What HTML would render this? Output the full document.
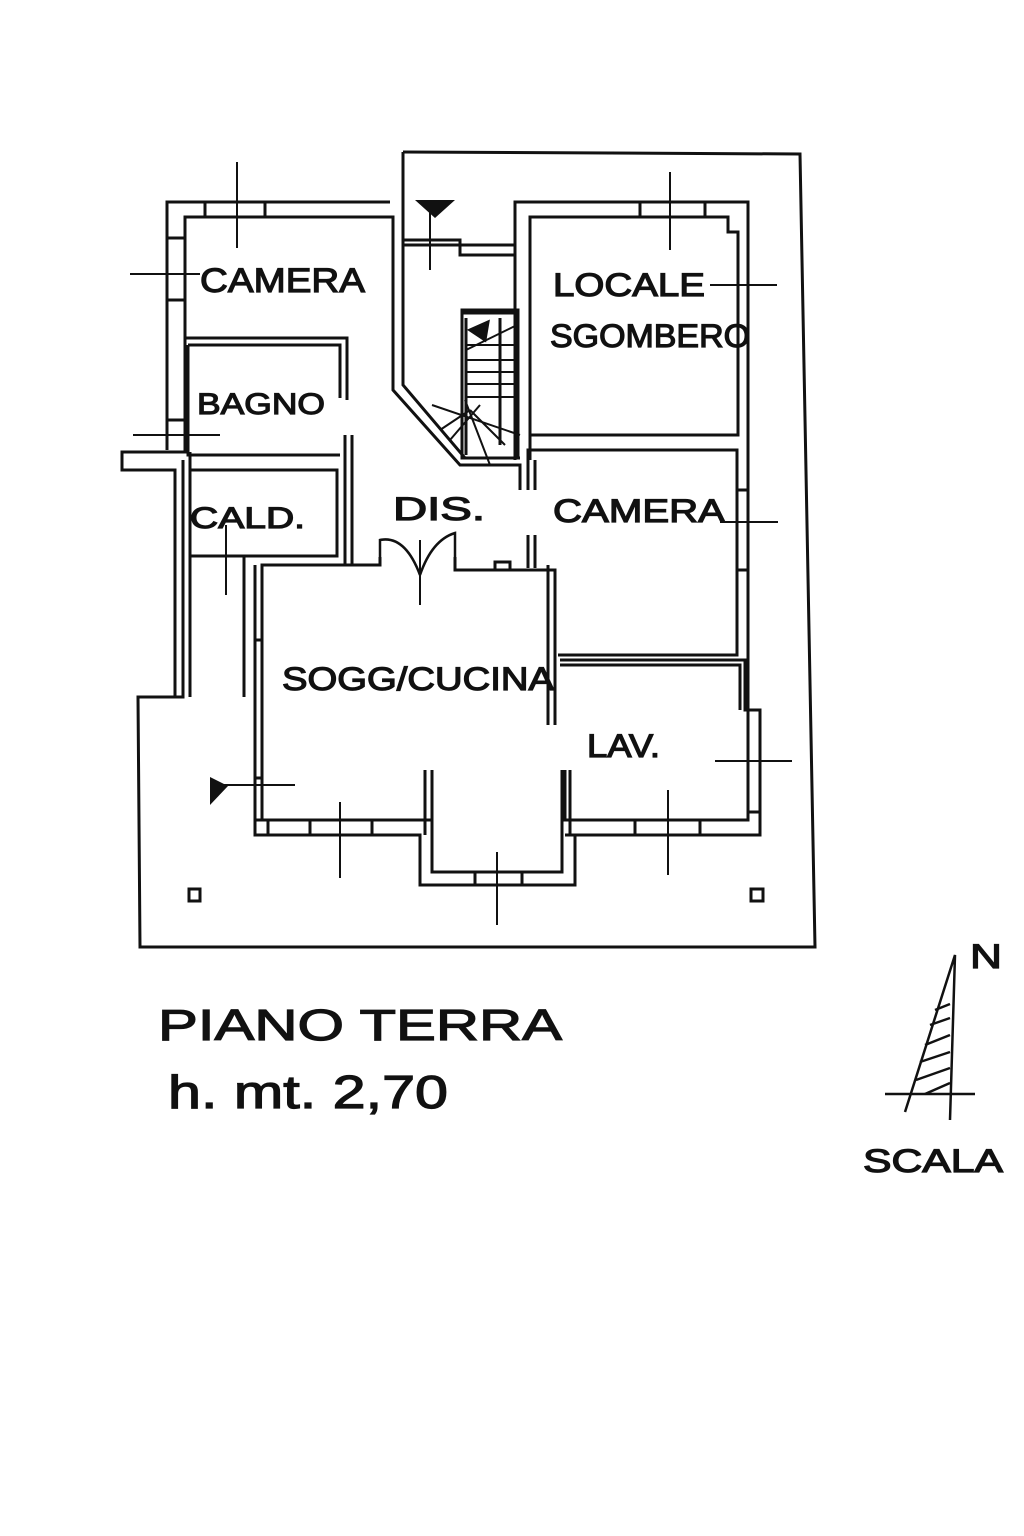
<!DOCTYPE html>
<html><head><meta charset="utf-8"><style>
html,body{margin:0;padding:0;background:#fff;}
svg{display:block;}
text{font-family:"Liberation Sans",sans-serif;fill:#111;stroke:#111;stroke-width:1.2;}
</style></head><body>
<svg width="1024" height="1536" viewBox="0 0 1024 1536" xmlns="http://www.w3.org/2000/svg">
<g fill="none" stroke="#111" stroke-width="3" stroke-linejoin="miter">
<!-- outer site boundary -->
<polyline points="403,152 800,154 815,947 140,947 138,697 183,697 183,460"/>
<line x1="403" y1="152" x2="403" y2="240"/>
<!-- top-left block -->
<polyline points="390,202 167,202 167,450"/>
<polyline points="393,240 393,217 185,217 185,450"/>
<line x1="205" y1="202" x2="205" y2="217"/><line x1="265" y1="202" x2="265" y2="217"/>
<line x1="167" y1="238" x2="185" y2="238"/><line x1="167" y1="300" x2="185" y2="300"/>
<line x1="167" y1="420" x2="185" y2="420"/>
<!-- camera/bagno partition -->
<polyline points="185,338 347,338 347,400"/>
<polyline points="188,345 340,345 340,398"/>
<polyline points="188,345 188,455 340,455"/>
<polyline points="185,440 185,452 122,452 122,470 175,470 175,697"/>
<line x1="190" y1="452" x2="190" y2="697"/>
<!-- bagno right / corridor left -->
<polyline points="345,435 345,565 375,565"/>
<polyline points="352,435 352,565"/>
<!-- cald box -->
<rect x="190" y="470" width="147" height="86"/>
<line x1="244" y1="556" x2="244" y2="697"/>
<!-- vestibule / corridor -->
<polyline points="393,217 393,390 460,465 520,465 520,490"/>
<polyline points="403,240 403,385 465,458 520,458"/>
<polyline points="403,240 460,240 460,255 515,255"/>
<line x1="403" y1="245" x2="515" y2="245"/>
<!-- stair -->
<rect x="462" y="310" width="56" height="148"/>
<line x1="466" y1="318" x2="466" y2="455"/>
<line x1="462" y1="313" x2="518" y2="313"/>
<line x1="500" y1="318" x2="500" y2="445"/>
<g stroke-width="2">
<line x1="466" y1="345" x2="518" y2="345"/><line x1="466" y1="360" x2="518" y2="360"/>
<line x1="466" y1="372" x2="518" y2="372"/><line x1="466" y1="384" x2="518" y2="384"/>
<line x1="466" y1="397" x2="518" y2="397"/><line x1="466" y1="350" x2="515" y2="326"/>
<line x1="432" y1="405" x2="520" y2="435"/><line x1="450" y1="440" x2="480" y2="405"/>
<line x1="440" y1="430" x2="470" y2="410"/><line x1="465" y1="400" x2="490" y2="465"/>
<line x1="470" y1="410" x2="505" y2="445"/>
</g>
<polygon points="470,330 488,322 485,340" fill="#111"/>
<!-- locale sgombero block -->
<polyline points="515,460 515,202 748,202 748,710"/>
<polyline points="530,460 530,217 728,217 728,232 738,232 738,435 530,435"/>
<line x1="640" y1="202" x2="640" y2="217"/><line x1="705" y1="202" x2="705" y2="217"/>
<!-- camera right -->
<polyline points="528,490 528,450 737,450 737,655 558,655"/>
<polyline points="535,490 535,460"/>
<line x1="737" y1="490" x2="748" y2="490"/><line x1="737" y1="570" x2="748" y2="570"/>
<!-- lav -->
<polyline points="560,660 745,660 745,710 760,710 760,835 565,835"/>
<polyline points="560,665 740,665 740,710"/><line x1="748" y1="710" x2="748" y2="820"/>
<polyline points="565,770 565,820 748,820 748,812 760,812"/>
<line x1="635" y1="820" x2="635" y2="835"/><line x1="700" y1="820" x2="700" y2="835"/>
<!-- soggiorno -->
<polyline points="380,557 380,565 262,565 262,820 432,820"/>
<polyline points="455,557 455,570 555,570 555,725"/>
<line x1="548" y1="565" x2="548" y2="725"/>
<line x1="528" y1="535" x2="528" y2="568"/><line x1="535" y1="535" x2="535" y2="568"/>
<polyline points="495,570 495,562 510,562 510,570"/>
<polyline points="255,565 255,835 420,835 420,885 575,885 575,835"/>
<polyline points="255,778 262,778"/><line x1="255" y1="640" x2="262" y2="640"/>
<line x1="255" y1="820" x2="268" y2="820"/><line x1="268" y1="820" x2="268" y2="835"/>
<line x1="310" y1="820" x2="310" y2="835"/><line x1="372" y1="820" x2="372" y2="835"/>
<polyline points="432,770 432,872 562,872 562,770"/>
<line x1="425" y1="770" x2="425" y2="835"/><line x1="570" y1="770" x2="570" y2="835"/>
<line x1="475" y1="872" x2="475" y2="885"/><line x1="522" y1="872" x2="522" y2="885"/>
<!-- door swings -->
<path d="M380,557 L380,540 Q405,535 420,575" stroke-width="2.5"/>
<path d="M455,557 L455,533 Q432,540 420,575" stroke-width="2.5"/>
<!-- columns -->
<rect x="189" y="889" width="11" height="12"/>
<rect x="751" y="889" width="12" height="12"/>
</g>
<!-- section/axis marks -->
<g stroke="#111" stroke-width="2">
<line x1="237" y1="162" x2="237" y2="248"/><line x1="130" y1="274" x2="200" y2="274"/>
<line x1="133" y1="435" x2="220" y2="435"/><line x1="226" y1="525" x2="226" y2="595"/>
<line x1="430" y1="200" x2="430" y2="270"/><line x1="670" y1="172" x2="670" y2="250"/>
<line x1="710" y1="285" x2="777" y2="285"/><line x1="720" y1="522" x2="778" y2="522"/>
<line x1="420" y1="540" x2="420" y2="605"/><line x1="215" y1="785" x2="295" y2="785"/>
<line x1="340" y1="802" x2="340" y2="878"/><line x1="497" y1="852" x2="497" y2="925"/>
<line x1="668" y1="790" x2="668" y2="875"/><line x1="715" y1="761" x2="792" y2="761"/>
</g>
<polygon points="415,200 455,200 435,218" fill="#111"/>
<polygon points="210,777 228,786 210,805" fill="#111"/>
<!-- labels -->
<text x="200" y="292" font-size="34" textLength="165" lengthAdjust="spacingAndGlyphs">CAMERA</text>
<text x="553" y="296" font-size="32" textLength="152" lengthAdjust="spacingAndGlyphs">LOCALE</text>
<text x="550" y="347" font-size="32" textLength="200" lengthAdjust="spacingAndGlyphs">SGOMBERO</text>
<text x="197" y="414" font-size="30" textLength="128" lengthAdjust="spacingAndGlyphs">BAGNO</text>
<text x="190" y="528" font-size="30" textLength="115" lengthAdjust="spacingAndGlyphs">CALD.</text>
<text x="393" y="520" font-size="32" textLength="92" lengthAdjust="spacingAndGlyphs">DIS.</text>
<text x="553" y="522" font-size="32" textLength="172" lengthAdjust="spacingAndGlyphs">CAMERA</text>
<text x="282" y="690" font-size="32" textLength="272" lengthAdjust="spacingAndGlyphs">SOGG/CUCINA</text>
<text x="587" y="757" font-size="32" textLength="73" lengthAdjust="spacingAndGlyphs">LAV.</text>
<text x="158" y="1040" font-size="44" textLength="404" lengthAdjust="spacingAndGlyphs">PIANO  TERRA</text>
<text x="168" y="1108" font-size="46" textLength="280" lengthAdjust="spacingAndGlyphs">h. mt.  2,70</text>
<text x="970" y="968" font-size="34" textLength="32" lengthAdjust="spacingAndGlyphs">N</text>
<text x="863" y="1172" font-size="32" textLength="140" lengthAdjust="spacingAndGlyphs">SCALA</text>
<!-- north arrow -->
<g stroke="#111" stroke-width="2.5" fill="none">
<polyline points="905,1112 955,955 950,1120"/>
<line x1="885" y1="1094" x2="975" y2="1094"/>
<line x1="930" y1="1025" x2="950" y2="1018"/><line x1="925" y1="1045" x2="950" y2="1035"/>
<line x1="920" y1="1062" x2="950" y2="1052"/><line x1="916" y1="1080" x2="950" y2="1068"/>
<line x1="925" y1="1094" x2="950" y2="1083"/><line x1="935" y1="1010" x2="950" y2="1004"/>
</g>
</svg>
</body></html>
